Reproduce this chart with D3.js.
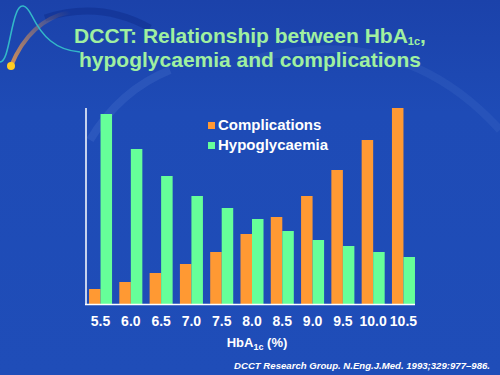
<!DOCTYPE html>
<html>
<head>
<meta charset="utf-8">
<script src="https://cdn.jsdelivr.net/npm/d3@7"></script>
<style>
  html, body { margin: 0; padding: 0; background: #1f4db6; }
  svg { display: block; }
</style>
</head>
<body>
<script>
// 图表数据
const hba1c = ['5.5', '6.0', '6.5', '7.0', '7.5', '8.0', '8.5', '9.0', '9.5', '10.0', '10.5'];
const complications = [15, 22, 31, 40, 52, 70, 87, 108, 134, 164, 196];
const hypoglycaemia = [190, 155, 128, 108, 96, 85, 73, 64, 58, 52, 47];
const seriesNames = ['Complications', 'Hypoglycaemia'];
const seriesColors = ['#ff9933', '#66ff99'];

const W = 500, H = 375;
const svg = d3.select('body').append('svg')
    .attr('width', W)
    .attr('height', H)
    .style('font-family', 'Arial, "Liberation Sans", sans-serif');

// 背景渐变
const defs = svg.append('defs');
const bg = defs.append('linearGradient').attr('id', 'bg')
    .attr('x1', 0).attr('y1', 0).attr('x2', 0).attr('y2', 1);
bg.append('stop').attr('offset', '0%').attr('stop-color', '#1b42aa');
bg.append('stop').attr('offset', '30%').attr('stop-color', '#1e4bb6');
bg.append('stop').attr('offset', '100%').attr('stop-color', '#1f4db8');
svg.append('rect').attr('width', W).attr('height', H).attr('fill', 'url(#bg)');

// 装饰：淡色弧线
svg.append('path')
    .attr('d', 'M 90 140 Q 120 90 170 70')
    .attr('fill', 'none')
    .attr('stroke', '#6a92dc')
    .attr('stroke-opacity', 0.18)
    .attr('stroke-width', 8);
svg.append('path')
    .attr('d', 'M 250 60 Q 400 20 500 130')
    .attr('fill', 'none')
    .attr('stroke', '#6a92dc')
    .attr('stroke-opacity', 0.12)
    .attr('stroke-width', 8);
svg.append('path')
    .attr('d', 'M 45 18 Q 100 0 150 28')
    .attr('fill', 'none')
    .attr('stroke', '#0d2a88')
    .attr('stroke-opacity', 0.45)
    .attr('stroke-width', 7);

// 装饰：左上角曲线与黄点
const streak = defs.append('linearGradient').attr('id', 'streak')
    .attr('x1', 0).attr('y1', 1).attr('x2', 1).attr('y2', 0);
streak.append('stop').attr('offset', '0%').attr('stop-color', '#ffa040').attr('stop-opacity', 0.8);
streak.append('stop').attr('offset', '100%').attr('stop-color', '#ffa040').attr('stop-opacity', 0);
svg.append('path')
    .attr('d', 'M 11 66 Q 30 20 70 12')
    .attr('fill', 'none')
    .attr('stroke', 'url(#streak)')
    .attr('stroke-width', 4);
svg.append('path')
    .attr('d', 'M 0 62 C 8 62 10 30 16 14 C 20 2 26 4 32 16 C 42 36 55 50 80 52')
    .attr('fill', 'none')
    .attr('stroke', '#33b8c8')
    .attr('stroke-width', 1.6);
svg.append('circle').attr('cx', 11).attr('cy', 66).attr('r', 4).attr('fill', '#ffcc22');

// 标题
const title = svg.append('g')
    .attr('fill', '#a0f0a0')
    .attr('font-weight', 'bold')
    .attr('font-size', 21)
    .attr('text-anchor', 'middle');
const t1 = title.append('text').attr('x', 250).attr('y', 43);
t1.append('tspan').text('DCCT: Relationship between HbA');
t1.append('tspan').attr('font-size', 11).attr('dy', 2).text('1c');
t1.append('tspan').attr('dy', -2).text(',');
title.append('text').attr('x', 250).attr('y', 67).text('hypoglycaemia and complications');

// 比例尺
const x0 = d3.scaleBand()
    .domain(hba1c)
    .range([86, 418])
    .paddingInner(0.24)
    .paddingOuter(0.1);
const x1 = d3.scaleBand()
    .domain(seriesNames)
    .range([0, x0.bandwidth()]);
const y = d3.scaleLinear()
    .domain([0, 196])
    .range([304, 108]);

const rows = hba1c.map((h, i) => ({
    key: h,
    values: [complications[i], hypoglycaemia[i]]
}));

// 柱子
svg.append('g')
    .selectAll('g')
    .data(rows)
    .join('g')
    .attr('transform', d => `translate(${x0(d.key)},0)`)
    .selectAll('rect')
    .data(d => d.values.map((v, j) => ({name: seriesNames[j], value: v, color: seriesColors[j]})))
    .join('rect')
    .attr('x', d => x1(d.name))
    .attr('y', d => y(d.value))
    .attr('width', x1.bandwidth())
    .attr('height', d => y(0) - y(d.value))
    .attr('fill', d => d.color);

// 坐标轴
svg.append('line')
    .attr('x1', 86).attr('x2', 86)
    .attr('y1', 108).attr('y2', y(0))
    .attr('stroke', '#ffffff').attr('stroke-width', 1.5);
const xAxis = svg.append('g')
    .attr('transform', `translate(0,${y(0)})`)
    .call(d3.axisBottom(x0).tickSize(0).tickPadding(12));
xAxis.select('.domain')
    .attr('d', `M85,0.5H415`)
    .attr('stroke', '#ffffff').attr('stroke-width', 1.5);
xAxis.selectAll('text')
    .attr('fill', '#ffffff')
    .attr('font-size', 14)
    .attr('font-weight', 'bold')
    .attr('font-family', 'Arial, "Liberation Sans", sans-serif');

// X 轴标题
const xl = svg.append('text')
    .attr('x', 257).attr('y', 347)
    .attr('text-anchor', 'middle')
    .attr('fill', '#ffffff')
    .attr('font-size', 13)
    .attr('font-weight', 'bold');
xl.append('tspan').text('HbA');
xl.append('tspan').attr('font-size', 9).attr('dy', 3).text('1c');
xl.append('tspan').attr('dy', -3).text(' (%)');

// 图例
const legend = svg.append('g')
    .selectAll('g')
    .data(seriesNames)
    .join('g')
    .attr('transform', (d, i) => `translate(208,${130 + i * 20})`);
legend.append('rect')
    .attr('x', 0).attr('y', -8)
    .attr('width', 7).attr('height', 7)
    .attr('fill', (d, i) => seriesColors[i]);
legend.append('text')
    .attr('x', 10)
    .attr('fill', '#ffffff')
    .attr('font-size', 15)
    .attr('font-weight', 'bold')
    .text(d => d);

// 出处
svg.append('text')
    .attr('x', 490).attr('y', 369)
    .attr('text-anchor', 'end')
    .attr('fill', '#ffffff')
    .attr('font-size', 9.6)
    .attr('font-style', 'italic')
    .attr('font-weight', 'bold')
    .text('DCCT Research Group. N.Eng.J.Med. 1993;329:977\u2013986.');
</script>
</body>
</html>
